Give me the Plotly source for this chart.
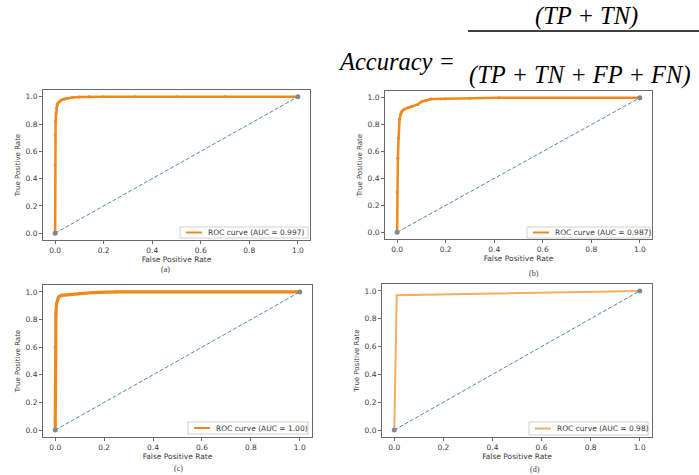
import plotly.graph_objects as go

# ---- data ----
fpr_a = [0.0, 0.0, 0.0, 0.002, 0.004, 0.006, 0.008, 0.01, 0.015, 0.02, 0.03, 0.04, 0.05, 0.07, 0.1, 0.14, 0.2, 0.33, 0.5, 0.7, 1.0]
tpr_a = [0.0, 0.5, 0.72, 0.82, 0.88, 0.92, 0.94, 0.95, 0.96, 0.97, 0.98, 0.985, 0.99, 0.995, 0.998, 1.0, 1.0, 1.0, 1.0, 1.0, 1.0]

fpr_b = [0.0, 0.0, 0.003, 0.006, 0.01, 0.015, 0.02, 0.03, 0.045, 0.06, 0.085, 0.1, 0.12, 0.14, 0.2, 0.3, 0.42, 1.0]
tpr_b = [0.0, 0.3, 0.55, 0.7, 0.84, 0.88, 0.9, 0.915, 0.925, 0.935, 0.95, 0.97, 0.98, 0.99, 0.993, 0.997, 1.0, 1.0]

fpr_c = [0.0, 0.0, 0.003, 0.006, 0.01, 0.015, 0.025, 0.05, 0.1, 0.15, 0.25, 1.0]
tpr_c = [0.0, 0.6, 0.85, 0.92, 0.95, 0.965, 0.975, 0.98, 0.99, 0.995, 1.0, 1.0]

fpr_d = [0.0, 0.01, 1.0]
tpr_d = [0.0, 0.97, 1.0]

chance_x = [0.0, 1.0]
chance_y = [0.0, 1.0]

auc_labels = ["ROC curve (AUC = 0.997)", "ROC curve (AUC = 0.987)",
              "ROC curve (AUC = 1.00)", "ROC curve (AUC = 0.98)"]
panel_labels = ["(a)", "(b)", "(c)", "(d)"]
tick_vals = [0.0, 0.2, 0.4, 0.6, 0.8, 1.0]
tick_text = ["0.0", "0.2", "0.4", "0.6", "0.8", "1.0"]

W, H = 699, 475

# panel boxes in pixels: (left, right, top, bottom)
boxes = [(43, 310, 90, 240), (385, 652, 91, 239), (43, 312, 285, 437), (382, 652, 284, 437)]
legend_boxes = [(180, 308, 227, 238), (527, 650, 227, 238), (188, 308, 422, 434), (529, 648, 422, 435)]
panel_label_pos = [(165, 269), (534, 273), (178, 468), (535, 469)]
curves = [(fpr_a, tpr_a), (fpr_b, tpr_b), (fpr_c, tpr_c), (fpr_d, tpr_d)]
curve_styles = [
    dict(color="#f0891a", width=2.5, marker=True),
    dict(color="#f0891a", width=2.5, marker=True),
    dict(color="#f0891a", width=3.2, marker=True),
    dict(color="#f2ae62", width=2.0, marker=False),
]

fig = go.Figure()
font_family = "DejaVu Sans"
txt_color = "#3a3a3a"


def px_x(v):
    return v / W


def px_y(v):
    return 1 - v / H


for i, ((fx, ty), st, box) in enumerate(zip(curves, curve_styles, boxes)):
    n = "" if i == 0 else str(i + 1)
    xa, ya = "x" + n, "y" + n
    fig.add_trace(go.Scatter(
        x=fx, y=ty, xaxis=xa, yaxis=ya, name=auc_labels[i],
        mode="lines+markers" if st["marker"] else "lines",
        line=dict(color=st["color"], width=st["width"]),
        marker=dict(size=3, color=st["color"]),
        showlegend=False,
    ))
    fig.add_trace(go.Scatter(
        x=chance_x, y=chance_y, xaxis=xa, yaxis=ya, mode="lines+markers",
        line=dict(color="#4f88ac", width=1, dash="4px,2px"),
        marker=dict(size=5, color="#7f8a90"),
        showlegend=False, hoverinfo="skip",
    ))
    l, r, t, b = box
    axis_common = dict(
        range=[-0.05, 1.05], tickvals=tick_vals, ticktext=tick_text,
        showgrid=False, zeroline=False, showline=True, mirror=True,
        linecolor="#6a6a6a", linewidth=1, ticks="outside", ticklen=3,
        tickcolor="#6a6a6a", tickfont=dict(family=font_family, size=7.5, color=txt_color),
    )
    fig.layout["xaxis" + n] = dict(
        axis_common, domain=[px_x(l), px_x(r)], anchor=ya,
        title=dict(text="False Positive Rate", font=dict(family=font_family, size=7.5, color=txt_color), standoff=2),
    )
    fig.layout["yaxis" + n] = dict(
        axis_common, domain=[px_y(b), px_y(t)], anchor=xa,
        title=dict(text="True Positive Rate", font=dict(family=font_family, size=7, color=txt_color), standoff=4),
    )

    # legend box (matplotlib style, lower right)
    ll, lr, lt, lb = legend_boxes[i]
    fig.add_shape(type="rect", xref="paper", yref="paper",
                  x0=px_x(ll), x1=px_x(lr), y0=px_y(lb), y1=px_y(lt),
                  line=dict(color="#d0d0d0", width=1), fillcolor="white", layer="above")
    ym = (lt + lb) / 2
    fig.add_shape(type="line", xref="paper", yref="paper",
                  x0=px_x(ll + 6), x1=px_x(ll + 22), y0=px_y(ym), y1=px_y(ym),
                  line=dict(color=st["color"], width=2), layer="above")
    fig.add_annotation(x=px_x(ll + 26), y=px_y(ym), xref="paper", yref="paper",
                       xanchor="left", yanchor="middle", text=auc_labels[i], showarrow=False,
                       font=dict(family=font_family, size=7.5, color=txt_color))

    px, py = panel_label_pos[i]
    fig.add_annotation(x=px_x(px), y=px_y(py), xref="paper", yref="paper",
                       xanchor="center", yanchor="middle",
                       text=panel_labels[i], showarrow=False,
                       font=dict(family="Liberation Serif", size=8, color=txt_color))

# Accuracy formula
serif = dict(family="Liberation Serif", size=24.5, color="black")
fig.add_annotation(x=px_x(457), y=px_y(61), xref="paper", yref="paper", xanchor="right", yanchor="middle",
                   text="<i>Accuracy =</i>", showarrow=False, font=serif)
fig.add_annotation(x=px_x(586), y=px_y(16), xref="paper", yref="paper", xanchor="center", yanchor="middle",
                   text="<i>(TP + TN)</i>", showarrow=False, font=serif)
fig.add_annotation(x=px_x(467), y=px_y(75), xref="paper", yref="paper", xanchor="left", yanchor="middle",
                   text="<i>(TP + TN + FP + FN)</i>", showarrow=False, font=serif)
fig.add_shape(type="line", xref="paper", yref="paper", x0=px_x(468), x1=1.0,
              y0=px_y(31), y1=px_y(31), line=dict(color="black", width=1.5))

fig.update_layout(
    width=W, height=H, margin=dict(l=0, r=0, t=0, b=0),
    paper_bgcolor="white", plot_bgcolor="white",
)

fig.write_html("out.html", config={"displayModeBar": False},
               post_script="document.body.style.margin='0';document.body.style.overflow='hidden';")
